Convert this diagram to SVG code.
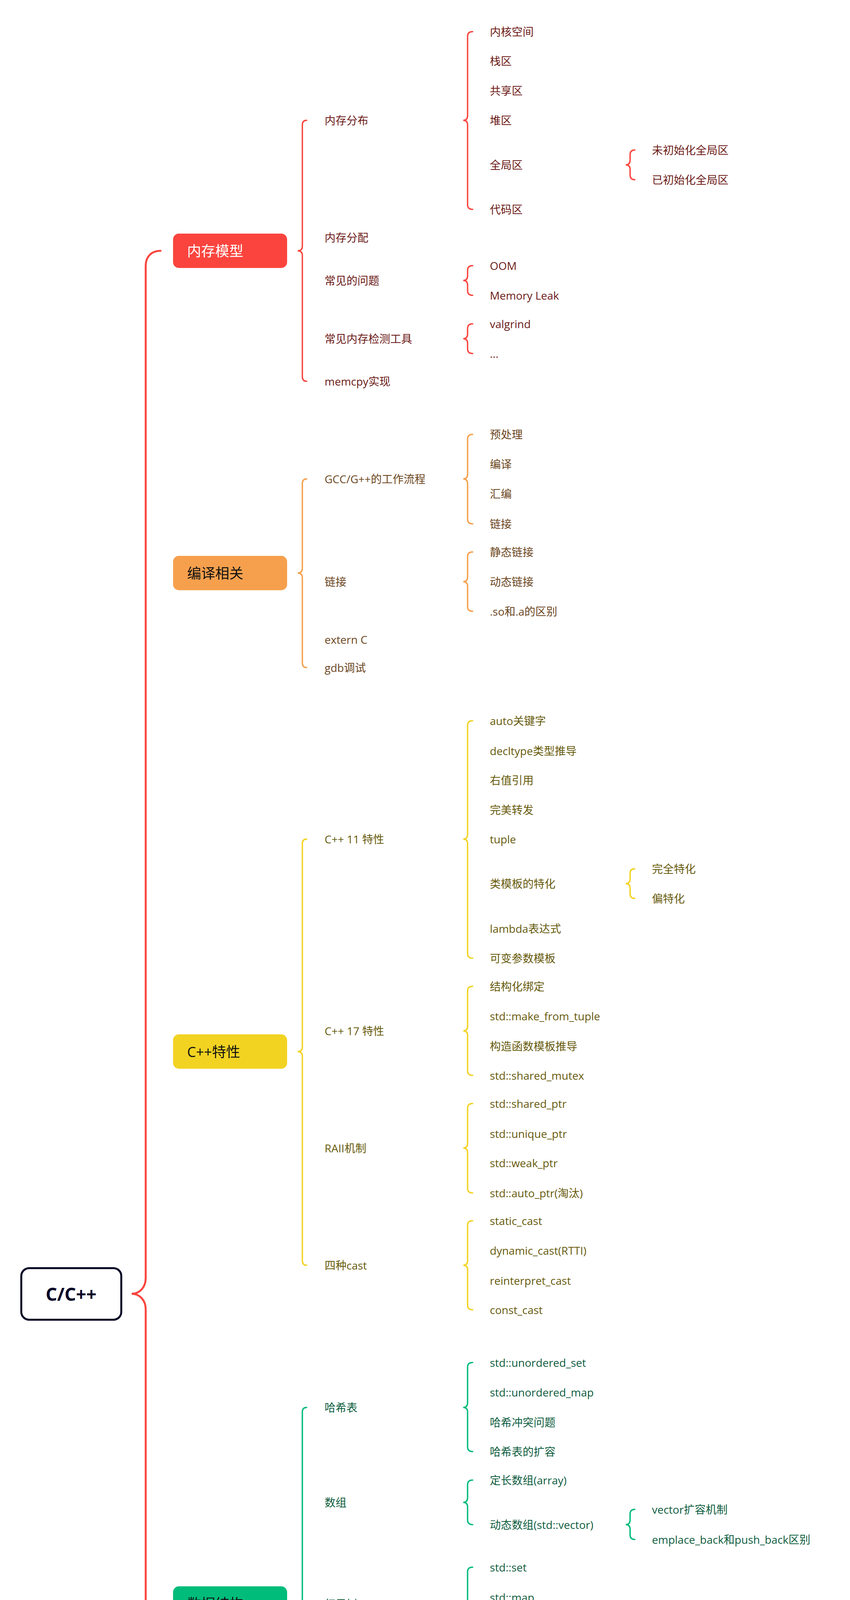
<svg xmlns="http://www.w3.org/2000/svg" width="2176" height="6354" viewBox="0 0 2176 6354">
<style>
text{font-family:"Open Sans","Noto Sans CJK SC",sans-serif;font-size:28px;dominant-baseline:central}
.bt{font-size:36px}
.w{fill:#ffffff}.k{fill:#111111}
.c1{fill:#6B1A17}.c2{fill:#6B4520}.c3{fill:#665A0C}.c4{fill:#0E5C3E}.c5{fill:#1C2466}.c6{fill:#26245A}
.root{font-size:46px;font-weight:700;fill:#020226}
.lk{fill:none;stroke-width:3.5;stroke-linecap:round}
.s1{stroke:#F9463E}.s2{stroke:#F6A04D}.s3{stroke:#F2D322}.s4{stroke:#00BC7B}.s5{stroke:#4C6EFF}.s6{stroke:#4E4ABF}
.foot{font-size:36px;font-weight:600;fill:#CFCFCF}
</style>
<rect width="2176" height="6354" fill="#ffffff"/>
<g id="connectors">
<path class="lk s1" style="stroke-width:5" d="M411 642C389 642 373 656 373 680L373 3272C373 3296 357 3312 337 3312C357 3312 373 3328 373 3352L373 5942C373 5966 389 5980 411 5980"/>
<path class="lk s1" d="M785 308Q774 308 774 320L774 630Q774 642 762 642Q774 642 774 654L774 964Q774 976 785 976"/>
<path class="lk s1" d="M1210 81Q1197 81 1197 93L1197 296Q1197 308 1186 308Q1197 308 1197 320L1197 524Q1197 536 1210 536"/>
<path class="lk s1" d="M1625 384Q1613 384 1613 396L1613 410Q1613 422 1602 422Q1613 422 1613 434L1613 448Q1613 460 1625 460"/>
<path class="lk s1" d="M1210 680Q1197 680 1197 692L1197 706Q1197 718 1186 718Q1197 718 1197 730L1197 744Q1197 756 1210 756"/>
<path class="lk s1" d="M1210 829Q1197 829 1197 841L1197 855Q1197 867 1186 867Q1197 867 1197 879L1197 893Q1197 905 1210 905"/>
<path class="lk s2" d="M785 1226Q774 1226 774 1238L774 1455Q774 1467 762 1467Q774 1467 774 1479L774 1697Q774 1709 785 1709"/>
<path class="lk s2" d="M1210 1112Q1197 1112 1197 1124L1197 1214Q1197 1226 1186 1226Q1197 1226 1197 1238L1197 1329Q1197 1341 1210 1341"/>
<path class="lk s2" d="M1210 1413Q1197 1413 1197 1425L1197 1477Q1197 1489 1186 1489Q1197 1489 1197 1501L1197 1553Q1197 1565 1210 1565"/>
<path class="lk s3" d="M785 2148Q774 2148 774 2160L774 2680Q774 2692 762 2692Q774 2692 774 2704L774 3227Q774 3239 785 3239"/>
<path class="lk s3" d="M1210 1845Q1197 1845 1197 1857L1197 2136Q1197 2148 1186 2148Q1197 2148 1197 2160L1197 2441Q1197 2453 1210 2453"/>
<path class="lk s3" d="M1625 2224Q1613 2224 1613 2236L1613 2250Q1613 2262 1602 2262Q1613 2262 1613 2274L1613 2288Q1613 2300 1625 2300"/>
<path class="lk s3" d="M1210 2525Q1197 2525 1197 2537L1197 2627Q1197 2639 1186 2639Q1197 2639 1197 2651L1197 2741Q1197 2753 1210 2753"/>
<path class="lk s3" d="M1210 2825Q1197 2825 1197 2837L1197 2927Q1197 2939 1186 2939Q1197 2939 1197 2951L1197 3042Q1197 3054 1210 3054"/>
<path class="lk s3" d="M1210 3125Q1197 3125 1197 3137L1197 3227Q1197 3239 1186 3239Q1197 3239 1197 3251L1197 3341Q1197 3353 1210 3353"/>
<path class="lk s4" d="M785 3603Q774 3603 774 3615L774 4093Q774 4105 762 4105Q774 4105 774 4117L774 4598Q774 4610 785 4610"/>
<path class="lk s4" d="M1210 3488Q1197 3488 1197 3500L1197 3591Q1197 3603 1186 3603Q1197 3603 1197 3615L1197 3704Q1197 3716 1210 3716"/>
<path class="lk s4" d="M1210 3789Q1197 3789 1197 3801L1197 3834Q1197 3846 1186 3846Q1197 3846 1197 3858L1197 3891Q1197 3903 1210 3903"/>
<path class="lk s4" d="M1625 3864Q1613 3864 1613 3876L1613 3891Q1613 3903 1602 3903Q1613 3903 1613 3915L1613 3929Q1613 3941 1625 3941"/>
<path class="lk s4" d="M1210 4012Q1197 4012 1197 4024L1197 4094Q1197 4106 1186 4106Q1197 4106 1197 4118L1197 4190Q1197 4202 1210 4202"/>
<path class="lk s4" d="M1625 4164Q1613 4164 1613 4176L1613 4190Q1613 4202 1602 4202Q1613 4202 1613 4214L1613 4228Q1613 4240 1625 4240"/>
<path class="lk s4" d="M1210 4312Q1197 4312 1197 4324L1197 4337Q1197 4349 1186 4349Q1197 4349 1197 4361L1197 4375Q1197 4387 1210 4387"/>
<path class="lk s4" d="M1210 4460Q1197 4460 1197 4472L1197 4486Q1197 4498 1186 4498Q1197 4498 1197 4510L1197 4524Q1197 4536 1210 4536"/>
<path class="lk s5" d="M785 4784Q774 4784 774 4796L774 4971Q774 4983 762 4983Q774 4983 774 4995L774 5172Q774 5184 785 5184"/>
<path class="lk s5" d="M1210 4745Q1197 4745 1197 4757L1197 4772Q1197 4784 1186 4784Q1197 4784 1197 4796L1197 4809Q1197 4821 1210 4821"/>
<path class="lk s5" d="M1210 4893Q1197 4893 1197 4905L1197 4918Q1197 4930 1186 4930Q1197 4930 1197 4942L1197 4957Q1197 4969 1210 4969"/>
<path class="lk s6" d="M785 5434Q774 5434 774 5446L774 5515Q774 5527 762 5527Q774 5527 774 5539L774 5608Q774 5620 785 5620"/>
<path class="lk s6" d="M1210 5359Q1197 5359 1197 5371L1197 5422Q1197 5434 1186 5434Q1197 5434 1197 5446L1197 5499Q1197 5511 1210 5511"/>
<path class="lk s6" d="M1625 5321Q1613 5321 1613 5333L1613 5347Q1613 5359 1602 5359Q1613 5359 1613 5371L1613 5384Q1613 5396 1625 5396"/>
<path class="lk s6" d="M1625 5472Q1613 5472 1613 5484L1613 5499Q1613 5511 1602 5511Q1613 5511 1613 5523L1613 5536Q1613 5548 1625 5548"/>
<path class="lk s1" d="M785 5832Q774 5832 774 5844L774 5968Q774 5980 762 5980Q774 5980 774 5992L774 6116Q774 6128 785 6128"/>
<path class="lk s1" d="M1210 5756Q1197 5756 1197 5768L1197 5820Q1197 5832 1186 5832Q1197 5832 1197 5844L1197 5896Q1197 5908 1210 5908"/>
<path class="lk s1" d="M1210 6052Q1197 6052 1197 6064L1197 6116Q1197 6128 1186 6128Q1197 6128 1197 6140L1197 6191Q1197 6203 1210 6203"/>
</g>
<g id="n-root"><rect x="54.5" y="3246.5" width="256" height="132" rx="20" fill="#ffffff" stroke="#020226" stroke-width="5"/><text class="root" x="182" y="3312" text-anchor="middle">C/C++</text></g>

<g id="n1"><rect x="443" y="598" width="292" height="88" rx="15" fill="#FA443D"/><text class="bt w" x="479" y="642">内存模型</text></g>
<g id="n1-1"><text class="c1" x="831" y="308">内存分布</text></g>
<g id="n1-1-1"><text class="c1" x="1254" y="81">内核空间</text></g>
<g id="n1-1-2"><text class="c1" x="1254" y="156">栈区</text></g>
<g id="n1-1-3"><text class="c1" x="1254" y="232">共享区</text></g>
<g id="n1-1-4"><text class="c1" x="1254" y="308">堆区</text></g>
<g id="n1-1-5"><text class="c1" x="1254" y="422">全局区</text></g>
<g id="n1-1-5-1"><text class="c1" x="1669" y="384">未初始化全局区</text></g>
<g id="n1-1-5-2"><text class="c1" x="1669" y="460">已初始化全局区</text></g>
<g id="n1-1-6"><text class="c1" x="1254" y="536">代码区</text></g>
<g id="n1-2"><text class="c1" x="831" y="608">内存分配</text></g>
<g id="n1-3"><text class="c1" x="831" y="718">常见的问题</text></g>
<g id="n1-3-1"><text class="c1" x="1254" y="680">OOM</text></g>
<g id="n1-3-2"><text class="c1" x="1254" y="756">Memory Leak</text></g>
<g id="n1-4"><text class="c1" x="831" y="867">常见内存检测工具</text></g>
<g id="n1-4-1"><text class="c1" x="1254" y="829">valgrind</text></g>
<g id="n1-4-2"><text class="c1" x="1254" y="905">...</text></g>
<g id="n1-5"><text class="c1" x="831" y="976">memcpy实现</text></g>

<g id="n2"><rect x="443" y="1423" width="292" height="88" rx="15" fill="#F6A04D"/><text class="bt k" x="479" y="1467">编译相关</text></g>
<g id="n2-1"><text class="c2" x="831" y="1226">GCC/G++的工作流程</text></g>
<g id="n2-1-1"><text class="c2" x="1254" y="1112">预处理</text></g>
<g id="n2-1-2"><text class="c2" x="1254" y="1188">编译</text></g>
<g id="n2-1-3"><text class="c2" x="1254" y="1264">汇编</text></g>
<g id="n2-1-4"><text class="c2" x="1254" y="1341">链接</text></g>
<g id="n2-2"><text class="c2" x="831" y="1489">链接</text></g>
<g id="n2-2-1"><text class="c2" x="1254" y="1413">静态链接</text></g>
<g id="n2-2-2"><text class="c2" x="1254" y="1489">动态链接</text></g>
<g id="n2-2-3"><text class="c2" x="1254" y="1565">.so和.a的区别</text></g>
<g id="n2-3"><text class="c2" x="831" y="1637">extern C</text></g>
<g id="n2-4"><text class="c2" x="831" y="1709">gdb调试</text></g>

<g id="n3"><rect x="443" y="2648" width="292" height="88" rx="15" fill="#F2D322"/><text class="bt k" x="479" y="2692">C++特性</text></g>
<g id="n3-1"><text class="c3" x="831" y="2148">C++ 11 特性</text></g>
<g id="n3-1-1"><text class="c3" x="1254" y="1845">auto关键字</text></g>
<g id="n3-1-2"><text class="c3" x="1254" y="1922">decltype类型推导</text></g>
<g id="n3-1-3"><text class="c3" x="1254" y="1997">右值引用</text></g>
<g id="n3-1-4"><text class="c3" x="1254" y="2073">完美转发</text></g>
<g id="n3-1-5"><text class="c3" x="1254" y="2148">tuple</text></g>
<g id="n3-1-6"><text class="c3" x="1254" y="2262">类模板的特化</text></g>
<g id="n3-1-6-1"><text class="c3" x="1669" y="2224">完全特化</text></g>
<g id="n3-1-6-2"><text class="c3" x="1669" y="2300">偏特化</text></g>
<g id="n3-1-7"><text class="c3" x="1254" y="2377">lambda表达式</text></g>
<g id="n3-1-8"><text class="c3" x="1254" y="2453">可变参数模板</text></g>
<g id="n3-2"><text class="c3" x="831" y="2639">C++ 17 特性</text></g>
<g id="n3-2-1"><text class="c3" x="1254" y="2525">结构化绑定</text></g>
<g id="n3-2-2"><text class="c3" x="1254" y="2601">std::make_from_tuple</text></g>
<g id="n3-2-3"><text class="c3" x="1254" y="2678">构造函数模板推导</text></g>
<g id="n3-2-4"><text class="c3" x="1254" y="2753">std::shared_mutex</text></g>
<g id="n3-3"><text class="c3" x="831" y="2939">RAII机制</text></g>
<g id="n3-3-1"><text class="c3" x="1254" y="2825">std::shared_ptr</text></g>
<g id="n3-3-2"><text class="c3" x="1254" y="2902">std::unique_ptr</text></g>
<g id="n3-3-3"><text class="c3" x="1254" y="2977">std::weak_ptr</text></g>
<g id="n3-3-4"><text class="c3" x="1254" y="3054">std::auto_ptr(淘汰)</text></g>
<g id="n3-4"><text class="c3" x="831" y="3239">四种cast</text></g>
<g id="n3-4-1"><text class="c3" x="1254" y="3125">static_cast</text></g>
<g id="n3-4-2"><text class="c3" x="1254" y="3201">dynamic_cast(RTTI)</text></g>
<g id="n3-4-3"><text class="c3" x="1254" y="3278">reinterpret_cast</text></g>
<g id="n3-4-4"><text class="c3" x="1254" y="3353">const_cast</text></g>

<g id="n4"><rect x="443" y="4061" width="292" height="88" rx="15" fill="#00BC7B"/><text class="bt k" x="479" y="4105">数据结构</text></g>
<g id="n4-1"><text class="c4" x="831" y="3603">哈希表</text></g>
<g id="n4-1-1"><text class="c4" x="1254" y="3488">std::unordered_set</text></g>
<g id="n4-1-2"><text class="c4" x="1254" y="3564">std::unordered_map</text></g>
<g id="n4-1-3"><text class="c4" x="1254" y="3641">哈希冲突问题</text></g>
<g id="n4-1-4"><text class="c4" x="1254" y="3716">哈希表的扩容</text></g>
<g id="n4-2"><text class="c4" x="831" y="3846">数组</text></g>
<g id="n4-2-1"><text class="c4" x="1254" y="3789">定长数组(array)</text></g>
<g id="n4-2-2"><text class="c4" x="1254" y="3903">动态数组(std::vector)</text></g>
<g id="n4-2-2-1"><text class="c4" x="1669" y="3864">vector扩容机制</text></g>
<g id="n4-2-2-2"><text class="c4" x="1669" y="3941">emplace_back和push_back区别</text></g>
<g id="n4-3"><text class="c4" x="831" y="4106">红黑树</text></g>
<g id="n4-3-1"><text class="c4" x="1254" y="4012">std::set</text></g>
<g id="n4-3-2"><text class="c4" x="1254" y="4089">std::map</text></g>
<g id="n4-3-3"><text class="c4" x="1254" y="4202">红黑树效率</text></g>
<g id="n4-3-3-1"><text class="c4" x="1669" y="4164">对比平衡树</text></g>
<g id="n4-3-3-2"><text class="c4" x="1669" y="4240">对比跳表</text></g>
<g id="n4-4"><text class="c4" x="831" y="4349">链表</text></g>
<g id="n4-4-1"><text class="c4" x="1254" y="4312">std::slist</text></g>
<g id="n4-4-2"><text class="c4" x="1254" y="4387">std::list</text></g>
<g id="n4-5"><text class="c4" x="831" y="4498">队列</text></g>
<g id="n4-5-1"><text class="c4" x="1254" y="4460">std::deque</text></g>
<g id="n4-5-2"><text class="c4" x="1254" y="4536">std::queue</text></g>
<g id="n4-6"><text class="c4" x="831" y="4610">堆</text></g>

<g id="n5"><rect x="443" y="4939" width="292" height="88" rx="15" fill="#4C6EFF"/><text class="bt w" x="479" y="4983">并发编程</text></g>
<g id="n5-1"><text class="c5" x="831" y="4784">信号量</text></g>
<g id="n5-1-1"><text class="c5" x="1254" y="4745">std::mutex</text></g>
<g id="n5-1-2"><text class="c5" x="1254" y="4821">std::shared_mutex</text></g>
<g id="n5-2"><text class="c5" x="831" y="4930">锁</text></g>
<g id="n5-2-1"><text class="c5" x="1254" y="4893">std::unique_lock</text></g>
<g id="n5-2-2"><text class="c5" x="1254" y="4969">std::shared_lock</text></g>
<g id="n5-3"><text class="c5" x="831" y="5040">std::condition_variable</text></g>
<g id="n5-4"><text class="c5" x="831" y="5112">std::future</text></g>
<g id="n5-5"><text class="c5" x="831" y="5184">std::thread</text></g>

<g id="n6"><rect x="443" y="5483" width="292" height="88" rx="15" fill="#4E4ABF"/><text class="bt w" x="479" y="5527">设计模式</text></g>
<g id="n6-1"><text class="c6" x="831" y="5434">单例模式</text></g>
<g id="n6-1-1"><text class="c6" x="1254" y="5359">按创建时刻划分</text></g>
<g id="n6-1-1-1"><text class="c6" x="1669" y="5321">懒汉式</text></g>
<g id="n6-1-1-2"><text class="c6" x="1669" y="5396">饥汉式</text></g>
<g id="n6-1-2"><text class="c6" x="1254" y="5511">按是否有锁划分</text></g>
<g id="n6-1-2-1"><text class="c6" x="1669" y="5472">有锁式</text></g>
<g id="n6-1-2-2"><text class="c6" x="1669" y="5548">无锁式</text></g>
<g id="n6-2"><text class="c6" x="831" y="5620">模板工厂</text></g>

<g id="n7"><rect x="443" y="5936" width="292" height="88" rx="15" fill="#FA443D"/><text class="bt w" x="479" y="5980">面向对象编程</text></g>
<g id="n7-1"><text class="c1" x="831" y="5832">特性</text></g>
<g id="n7-1-1"><text class="c1" x="1254" y="5756">封装</text></g>
<g id="n7-1-2"><text class="c1" x="1254" y="5832">继承</text></g>
<g id="n7-1-3"><text class="c1" x="1254" y="5908">多态</text></g>
<g id="n7-2"><text class="c1" x="831" y="5980">析构函数</text></g>
<g id="n7-3"><text class="c1" x="831" y="6128">虚函数</text></g>
<g id="n7-3-1"><text class="c1" x="1254" y="6052">虚函数表</text></g>
<g id="n7-3-2"><text class="c1" x="1254" y="6128">菱形继承</text></g>
<g id="n7-3-3"><text class="c1" x="1254" y="6203">虚继承的内存模型</text></g>

<text class="foot" x="1086" y="6300" text-anchor="middle">Presented with XMind</text>
</svg>
